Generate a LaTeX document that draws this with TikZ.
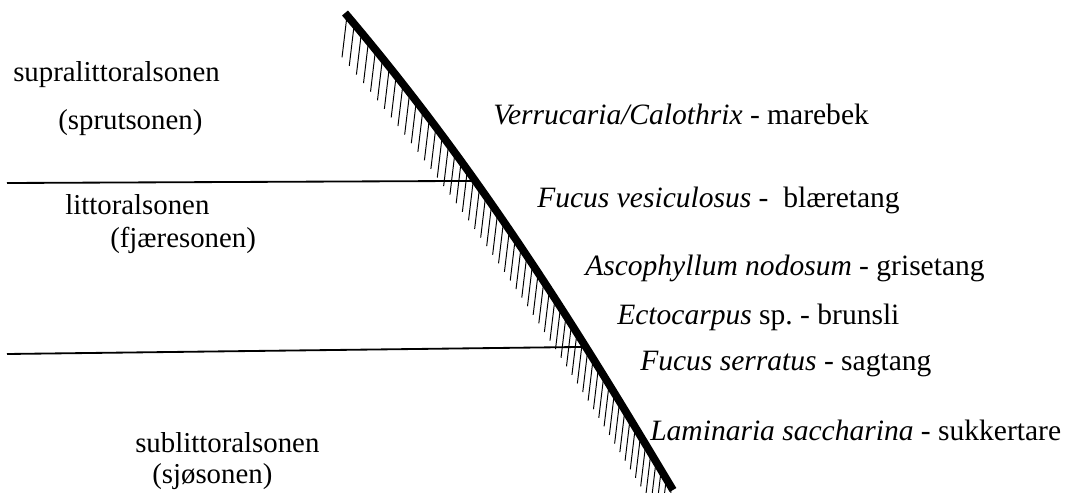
\documentclass[tikz,border=0pt]{standalone}
\usepackage{fontspec}
\setmainfont{Liberation Serif}
\tikzset{
    zonetext/.style={anchor=west, inner sep=0pt, font=\fontsize{20.5}{24}\selectfont},
    algatext/.style={anchor=west, inner sep=0pt, font=\fontsize{21}{25}\selectfont},
    shore/.style={line width=5.5pt},
    level/.style={line width=1.3pt},
    hatch/.style={line width=0.7pt},
}
\begin{document}
\begin{tikzpicture}[x=0.025cm, y=-0.025cm]
    \useasboundingbox (0,0) rectangle (1080,493);

    % Ends of the shore profile
    \coordinate (top) at (345,13);
    \coordinate (bot) at (673,490);

    % Hatching below the shore profile
    \begin{scope}
        \clip (0,0) rectangle (1080,493);
        \foreach \t in {0.005,0.023,...,0.995} {
            \path (top) .. controls (480,172) and (578,331) .. (bot) coordinate[pos=\t] (h);
            \draw[hatch] (h) -- ++(-5,42);
        }
    \end{scope}

    % Shore profile, with the points where the zone limits meet it
    \draw[shore] (top) .. controls (480,172) and (578,331) .. (bot)
        coordinate[pos=0.352] (s1) coordinate[pos=0.70] (s2);

    % Zone limits
    \coordinate (l1) at (7,183);
    \coordinate (l2) at (7,354);
    \draw[level] (l1) -- (s1);
    \draw[level] (l2) -- (s2);

    % Zone names
    \node[zonetext] (supra) at (13,75) {supralittoralsonen};
    \node[zonetext] (sprut) at (58,123) {(sprutsonen)};
    \node[zonetext] (litt) at (65,205) {littoralsonen};
    \node[zonetext] (fjaere) at (110,240) {(fjæresonen)};
    \node[zonetext] (sublitt) at (135,443) {sublittoralsonen};
    \node[zonetext] (sjo) at (152,477) {(sjøsonen)};

    % Algae along the shore
    \node[algatext] (verr) at (493,114) {\textit{Verrucaria/Calothrix} - marebek};
    \node[algatext] (fves) at (537,200) {\textit{Fucus vesiculosus} -\ \ blæretang};
    \node[algatext] (asco) at (585,268) {\textit{Ascophyllum nodosum} - grisetang};
    \node[algatext] (ecto) at (617,317) {\textit{Ectocarpus} sp.\ - brunsli};
    \node[algatext] (fser) at (640,364) {\textit{Fucus serratus} - sagtang};
    \node[algatext] (lami) at (650,430) {\textit{Laminaria saccharina} - sukkertare};
\end{tikzpicture}
\end{document}
